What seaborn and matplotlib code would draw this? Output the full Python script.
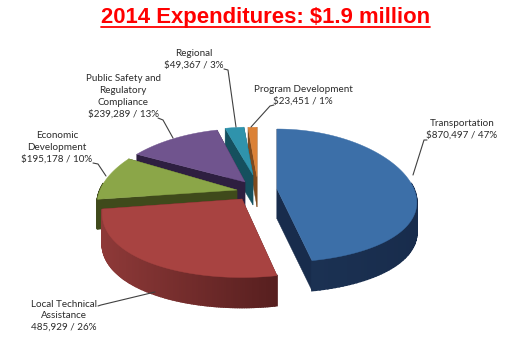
import numpy as np
import matplotlib
matplotlib.use('Agg')
import matplotlib.pyplot as plt
import seaborn as sns

names = ['Transportation', 'Local Technical\nAssistance', 'Economic\nDevelopment',
         'Public Safety and\nRegulatory\nCompliance', 'Regional', 'Program Development']
amounts = [870497, 485929, 195178, 239289, 49367, 23451]
amount_labels = ['$870,497 / 47%', '485,929 / 26%', '$195,178 / 10%',
                 '$239,289 / 13%', '$49,367 / 3%', '$23,451 / 1%']
top_colors = ['#3C6FA8', '#A84341', '#8BA648', '#70548E', '#2F93AC', '#DB8136']
side_colors = ['#1C3355', '#8E3938', '#3F4A1B', '#2E1F40', '#15505E', '#7E4A1E']
side_dark = ['#182C4C', '#571F1F', '#3F4A1B', '#2E1F40', '#15505E', '#7E4A1E']

# wedge tip offset from the pie centre, in pixels
tip_dx = [27, -8, -13, -5, 3, 7]
tip_dy = [2, 12, 3, -5, -12, -10]
height_scale = [1, 1.07, 1, 0.89, 0.8, 0.83]
label_x = [462, 64, 57, 123, 194, 303]
label_y = [129.5, 316, 147.5, 96.5, 59.5, 95.5]
leaders = [[(427, 140), (424, 140), (413, 175)],
           [(98, 306), (101, 305), (155, 292)],
           [(93, 163), (98, 164), (106, 176)],
           [(158, 118), (163, 120), (173, 138)],
           [(224, 69), (228, 70), (236, 127)],
           [(274, 105), (270, 106), (251, 127)]]

cx, cy = 250, 187
rx, ry = 137, 66
depth = 30


def project(u, v, i):
    # far side of the pie is drawn smaller than the near side
    x = cx + tip_dx[i] + rx * u / (1 + 0.2 * v)
    y = cy + tip_dy[i] - ry * height_scale[i] * v / (1 + 0.1 * v)
    return x, y


sns.set_theme(style='white')
fig, ax = plt.subplots(figsize=(5.24, 3.52), dpi=100)
ax.set_position([0, 0, 1, 1])
ax.set_xlim(0, 524)
ax.set_ylim(352, 0)
ax.axis('off')

fractions = np.array(amounts) / sum(amounts)
ends = 90 - 360 * np.cumsum(fractions)
starts = np.r_[90, ends[:-1]]

# back to front so nearer slices cover the others
for i in [5, 4, 3, 2, 1, 0]:
    th = np.radians(np.linspace(starts[i], ends[i], 120))
    px, py = project(np.cos(th), np.sin(th), i)
    tipx, tipy = cx + tip_dx[i], cy + tip_dy[i]
    # inner cut faces
    for ex, ey in [(px[0], py[0]), (px[-1], py[-1])]:
        ax.fill([tipx, ex, ex, tipx], [tipy, ey, ey + depth, tipy + depth],
                color=side_dark[i], lw=0.3, zorder=i * -3 + 20)
    # outer rim, shaded along the arc, only the part facing the viewer
    c1 = np.array(matplotlib.colors.to_rgb(side_colors[i]))
    c2 = np.array(matplotlib.colors.to_rgb(side_dark[i]))
    for k in range(len(px) - 1):
        if np.sin(th[k]) > 0.1:
            continue
        t = (px[k] - px.min()) / max(np.ptp(px), 1)
        ax.fill([px[k], px[k + 1], px[k + 1], px[k]],
                [py[k], py[k + 1], py[k + 1] + depth, py[k] + depth],
                color=c1 + (c2 - c1) * t, lw=1.2, zorder=i * -3 + 21)
    ax.fill(np.r_[tipx, px], np.r_[tipy, py], color=top_colors[i], lw=0.3, zorder=i * -3 + 22)

ax.text(265.5, 17.5, '2014 Expenditures: $1.9 million', color='#FF0000', fontsize=15.9,
        fontweight='bold', family='Liberation Sans', ha='center', va='center')
ax.plot([101, 430], [26.5, 26.5], color='#FF0000', lw=1.3)

for name, text, x, y in zip(names, amount_labels, label_x, label_y):
    ax.text(x, y, name + '\n' + text, fontsize=7.15, family='Lato', color='#2B2B2B',
            ha='center', va='center', linespacing=1.38, zorder=40)
for line in leaders:
    ax.plot([p[0] for p in line], [p[1] for p in line], color='#404040', lw=0.8, zorder=30)

fig.savefig('out.png', dpi=100)
